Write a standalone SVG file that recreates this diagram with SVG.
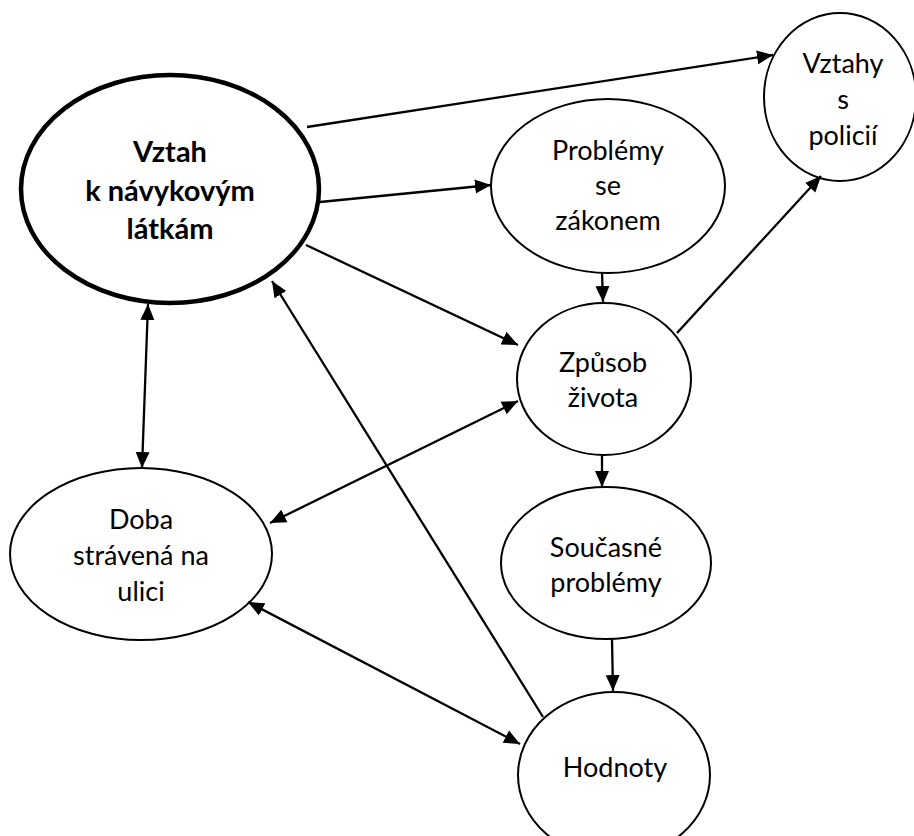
<svg xmlns="http://www.w3.org/2000/svg" width="914" height="836" viewBox="0 0 914 836">
<defs>
<style>
.node ellipse{fill:#fff;stroke:#000;stroke-width:2}
.node.main ellipse{stroke-width:4.5}
.node text{font-family:Lato,"Open Sans","Liberation Sans",sans-serif;font-size:27px;fill:#000;text-anchor:middle}
.node.main text{font-weight:bold;font-size:29px}
.edges line{stroke:#000;stroke-width:2.3;fill:none}
.one{marker-end:url(#arr)}
.two{marker-start:url(#arr);marker-end:url(#arr)}
</style>
<marker id="arr" markerUnits="userSpaceOnUse" markerWidth="17" markerHeight="15" refX="16" refY="7" orient="auto-start-reverse" viewBox="0 0 17 14">
<path d="M0,0 L16,7 L0,14 z" fill="#000"/>
</marker>
</defs>
<rect width="914" height="836" fill="#fff"/>
<g id="nodes">
<g id="n-vztah" class="node main">
<ellipse cx="170" cy="189" rx="149" ry="114"/>
<text x="170" y="162">Vztah</text>
<text x="170" y="201">k návykovým</text>
<text x="170" y="239">látkám</text>
</g>
<g id="n-policie" class="node">
<ellipse cx="840" cy="97" rx="76" ry="84"/>
<text x="843" y="73">Vztahy</text>
<text x="843" y="109">s</text>
<text x="843" y="145">policií</text>
</g>
<g id="n-zakon" class="node">
<ellipse cx="608" cy="186" rx="117" ry="87"/>
<text x="608" y="160">Problémy</text>
<text x="608" y="195">se</text>
<text x="608" y="230">zákonem</text>
</g>
<g id="n-zivot" class="node">
<ellipse cx="604" cy="379" rx="87" ry="76"/>
<text x="603" y="372">Způsob</text>
<text x="603" y="407">života</text>
</g>
<g id="n-ulice" class="node">
<ellipse cx="141" cy="554" rx="131" ry="86"/>
<text x="141" y="529">Doba</text>
<text x="141" y="565">strávená na</text>
<text x="141" y="601">ulici</text>
</g>
<g id="n-problemy" class="node">
<ellipse cx="606" cy="563" rx="105" ry="76"/>
<text x="606" y="557">Současné</text>
<text x="606" y="592">problémy</text>
</g>
<g id="n-hodnoty" class="node">
<ellipse cx="614" cy="775" rx="96" ry="83"/>
<text x="615" y="777">Hodnoty</text>
</g>
</g>
<g id="edges" class="edges">
<line class="one" x1="307" y1="127" x2="773" y2="55"/>
<line class="one" x1="320" y1="202" x2="491" y2="185"/>
<line class="one" x1="306" y1="245" x2="518" y2="345"/>
<line class="one" x1="543" y1="717" x2="272" y2="281"/>
<line class="two" x1="148" y1="304" x2="142" y2="468"/>
<line class="two" x1="518" y1="401" x2="270" y2="523"/>
<line class="two" x1="248" y1="602" x2="520" y2="744"/>
<line class="one" x1="602" y1="272" x2="603" y2="302"/>
<line class="one" x1="602" y1="455" x2="602" y2="487"/>
<line class="one" x1="612" y1="639" x2="613" y2="691"/>
<line class="one" x1="677" y1="333" x2="821" y2="176"/>
</g>
</svg>
